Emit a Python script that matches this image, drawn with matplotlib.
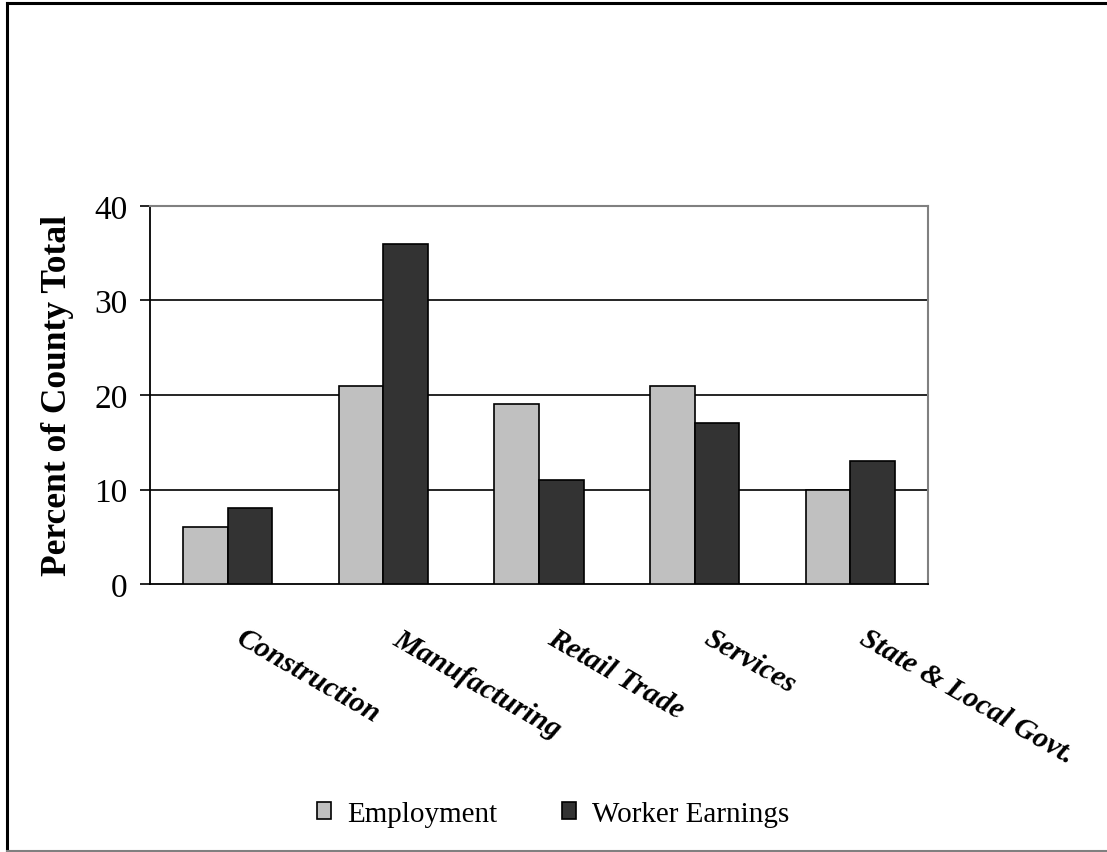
import numpy as np
import matplotlib
matplotlib.use("Agg")
import matplotlib.pyplot as plt
import matplotlib.transforms as mtransforms
from matplotlib.lines import Line2D

plt.rcParams['font.family'] = ['Liberation Serif', 'DejaVu Serif']

categories = ["Construction", "Manufacturing", "Retail Trade", "Services", "State & Local Govt."]
employment = [6, 21, 19, 21, 10]
worker_earnings = [8, 36, 11, 17, 13]
yticks = [0, 10, 20, 30, 40]

fig = plt.figure(figsize=(11.07, 8.53), dpi=100)
ax = fig.add_axes([150/1107, 1-585/853, 778/1107, 378/853])

x = np.arange(len(categories))
w = 0.286
ax.bar(x - w/2, employment, w, color="#c0c0c0", edgecolor="black", linewidth=1.2,
       label="Employment", zorder=3)
ax.bar(x + w/2, worker_earnings, w, color="#333333", edgecolor="black", linewidth=1.2,
       label="Worker Earnings", zorder=3)

ax.set_xlim(-0.5, len(categories) - 0.5)
ax.set_ylim(0, 40)
ax.set_yticks(yticks)
ax.set_yticklabels([str(t) for t in yticks], fontsize=24)
for t in yticks[1:-1]:
    ax.axhline(t, color="black", linewidth=1.2, zorder=1)

ax.set_xticks(x)
ax.set_xticklabels(categories, fontsize=21.5, fontweight="bold", fontstyle="italic",
                   rotation=-30, ha="left", va="top", rotation_mode="anchor")
ax.tick_params(axis="x", length=0, pad=29)
ax.tick_params(axis="y", length=7, width=1.2, pad=9, direction="out")
# shift category labels to the right
shift = mtransforms.ScaledTranslation(18/100, 0, fig.dpi_scale_trans)
for lab in ax.get_xticklabels():
    lab.set_transform(lab.get_transform() + shift)

for s in ["left", "bottom"]:
    ax.spines[s].set_color("black")
    ax.spines[s].set_linewidth(1.3)
for s in ["top", "right"]:
    ax.spines[s].set_color("#808080")
    ax.spines[s].set_linewidth(1.5)

ax.set_ylabel("Percent of County Total", fontsize=25.5, fontweight="bold")
ax.yaxis.set_label_coords(-0.098, 0.5)

fig.legend(loc="center", bbox_to_anchor=(553/1107, 1-815/853), ncol=2, frameon=False,
           fontsize=21, handlelength=0.5, handleheight=0.5, handletextpad=0.55,
           columnspacing=2.2)

# outer chart border
fig.add_artist(Line2D([6.5/1107, 6.5/1107], [1-3.5/853, 1-851/853], transform=fig.transFigure,
                      color="black", linewidth=2.2))
fig.add_artist(Line2D([6.5/1107, 1], [1-3.5/853, 1-3.5/853], transform=fig.transFigure,
                      color="black", linewidth=2.2))
fig.add_artist(Line2D([6.5/1107, 1], [1-851.5/853, 1-851.5/853], transform=fig.transFigure,
                      color="#808080", linewidth=1.5))

fig.savefig("out.png", dpi=100)
